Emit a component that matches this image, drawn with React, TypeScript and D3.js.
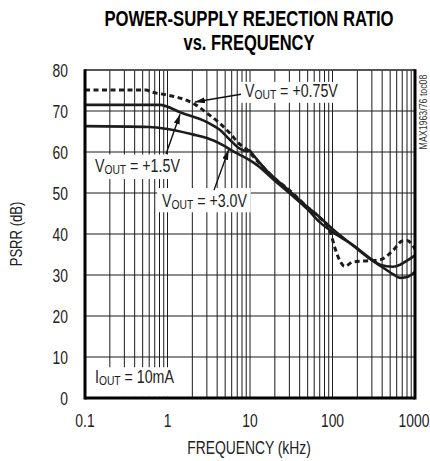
import React from "react";
import * as d3 from "d3";

// PSRR vs frequency (kHz, dB)
const freqTicks = [0.1, 1, 10, 100, 1000];
const freqTickLabels = ["0.1", "1", "10", "100", "1000"];
const psrrTicks = [0, 10, 20, 30, 40, 50, 60, 70, 80];

const vout075: [number, number][] = [
  [0.1, 75.1], [0.55, 75.1], [0.65, 74.6], [1, 73.9], [1.8, 72.4], [2.2, 71.5],
  [3, 69.5], [4.3, 67], [5.7, 64.6], [7.5, 61.9], [9.2, 60.6], [12, 58],
  [20, 53.5], [30, 50.7], [50, 46.5], [70, 44], [93, 40.8], [107, 36.6],
  [125, 33.2], [140, 32.1], [177, 33.2], [234, 33.4], [377, 33.7], [541, 36],
  [700, 38.3], [800, 38.4], [1000, 36.3],
];

const vout15: [number, number][] = [
  [0.1, 71.5], [0.8, 71.5], [1.5, 69.5], [3, 67.3], [4.3, 65.4], [5.7, 63],
  [7.5, 60.8], [9.2, 60.2], [9.8, 60.4], [10.8, 59.4], [15, 56], [30, 50.5],
  [50, 46.5], [70, 44.1], [100, 41.2], [177, 37.2], [300, 33.6], [377, 32.3],
  [540, 30.2], [660, 29.3], [800, 29.5], [1000, 30.8],
];

const vout30: [number, number][] = [
  [0.1, 66.3], [0.6, 66.1], [1, 65.6], [2, 64.3], [3, 63.4], [4.7, 61.7],
  [6.2, 60.2], [9, 58.5], [12.2, 56.8], [20, 53], [30, 50], [50, 46],
  [70, 42.9], [100, 40.5], [177, 37.3], [300, 33.8], [377, 32.5], [540, 32],
  [660, 32.5], [800, 33.5], [1000, 34.8],
];

const W = 430;
const H = 461;
const margin = { top: 70, right: 15, bottom: 63, left: 85 };

const FONT = "'Liberation Sans', Arial, sans-serif";
const SQUEEZE = 0.77; // the datasheet uses a condensed face

// text drawn with a horizontal squeeze around its anchor point
function CText({
  x,
  y,
  sx = SQUEEZE,
  children,
  ...rest
}: {
  x: number;
  y: number;
  sx?: number;
  children: React.ReactNode;
  [k: string]: any;
}) {
  return (
    <g transform={`translate(${x},${y}) scale(${sx},1)`}>
      <text x={0} y={0} {...rest}>
        {children}
      </text>
    </g>
  );
}

export default function App() {
  const x = d3
    .scaleLog()
    .domain([0.1, 1000])
    .range([margin.left, W - margin.right]);
  const y = d3
    .scaleLinear()
    .domain([0, 80])
    .range([H - margin.bottom, margin.top]);

  // minor + major vertical grid lines (1..9 per decade)
  const vGrid: number[] = [];
  for (let dec = 0.1; dec < 1000; dec *= 10) {
    for (let k = 1; k <= 9; k++) vGrid.push(+(dec * k).toPrecision(3));
  }

  const line = d3
    .line<[number, number]>()
    .x((d) => x(d[0]))
    .y((d) => y(d[1]))
    .curve(d3.curveMonotoneX);

  // white boxes behind the labels
  const boxes = [
    { f0: 7.5, f1: 134, p0: 72, p1: 77.1 },
    { f0: 0.118, f1: 1.7, p0: 53.4, p1: 59.4 },
    { f0: 0.75, f1: 10.2, p0: 45.3, p1: 51.2 },
    { f0: 0.103, f1: 1.85, p0: 0.3, p1: 7.5 },
  ];

  const arrows = [
    { from: [7.78, 74.1], to: [2.15, 72.2] },
    { from: [0.96, 59.5], to: [1.42, 69.2] },
    { from: [3.66, 50.7], to: [5.5, 60.5] },
  ];

  const labels = [
    { f: 8.7, p: 73.4, v: "V", sub: "OUT", rest: " = +0.75V" },
    { f: 0.132, p: 55.1, v: "V", sub: "OUT", rest: " = +1.5V" },
    { f: 0.86, p: 46.6, v: "V", sub: "OUT", rest: " = +3.0V" },
    { f: 0.132, p: 3.7, v: "I", sub: "OUT", rest: " = 10mA" },
  ];

  const x0 = x(0.1);
  const x1 = x(1000);
  const y0 = y(0);
  const y1 = y(80);

  return (
    <svg
      width={W}
      height={H}
      style={{ position: "absolute", left: 0, top: 0, background: "#fff" }}
    >
      <defs>
        <marker
          id="head"
          viewBox="0 0 10 6"
          refX="10"
          refY="3"
          markerWidth="10"
          markerHeight="6"
          markerUnits="userSpaceOnUse"
          orient="auto"
        >
          <path d="M0,0 L10,3 L0,6 Z" fill="#111" />
        </marker>
      </defs>

      {/* title */}
      <g fontFamily={FONT} fontWeight="bold" fontSize={22} fill="#000" textAnchor="middle">
        <CText x={249} y={26} sx={0.76}>
          POWER-SUPPLY REJECTION RATIO
        </CText>
        <CText x={249} y={50} sx={0.75}>
          vs. FREQUENCY
        </CText>
      </g>

      {/* grid */}
      <g stroke="#1a1a1a" strokeWidth={1}>
        {vGrid.map((f) => (
          <line key={"v" + f} x1={x(f)} x2={x(f)} y1={y1} y2={y0} />
        ))}
        {psrrTicks.map((p) => (
          <line key={"h" + p} x1={x0} x2={x1} y1={y(p)} y2={y(p)} />
        ))}
      </g>

      {/* label backgrounds */}
      {boxes.map((b, i) => (
        <rect
          key={i}
          x={x(b.f0)}
          y={y(b.p1)}
          width={x(b.f1) - x(b.f0)}
          height={y(b.p0) - y(b.p1)}
          fill="#fff"
        />
      ))}

      {/* curves */}
      <g fill="none" stroke="#1c1c1c" strokeLinejoin="round">
        <path d={line(vout15) || ""} strokeWidth={2.6} />
        <path d={line(vout30) || ""} strokeWidth={2.6} />
        <path d={line(vout075) || ""} strokeWidth={3} strokeDasharray="5 3.5" />
      </g>

      {/* arrows */}
      <g stroke="#111" strokeWidth={1.4}>
        {arrows.map((a, i) => (
          <line
            key={i}
            x1={x(a.from[0])}
            y1={y(a.from[1])}
            x2={x(a.to[0])}
            y2={y(a.to[1])}
            markerEnd="url(#head)"
          />
        ))}
      </g>

      {/* annotations */}
      <g fontFamily={FONT} fontSize={18} fill="#222">
        {labels.map((l, i) => (
          <CText key={i} x={x(l.f)} y={y(l.p)} sx={0.79}>
            {l.v}
            <tspan fontSize={13} dy={2}>
              {l.sub}
            </tspan>
            <tspan dy={-2}>{l.rest}</tspan>
          </CText>
        ))}
      </g>

      {/* frame */}
      <line x1={x0} x2={x1} y1={y1} y2={y1} stroke="#444" strokeWidth={1.6} />
      <line x1={x0} x2={x0} y1={y1 - 0.8} y2={y0 + 1.5} stroke="#000" strokeWidth={3} />
      <line x1={x1} x2={x1} y1={y1 - 0.8} y2={y0 + 1.5} stroke="#000" strokeWidth={3} />
      <line x1={x0} x2={x1} y1={y0} y2={y0} stroke="#000" strokeWidth={3} />

      {/* y ticks */}
      <g fontFamily={FONT} fontSize={18} fill="#222" textAnchor="end">
        {psrrTicks.map((p) => (
          <CText key={p} x={x0 - 17} y={y(p) + 6.5}>
            {p}
          </CText>
        ))}
      </g>

      {/* x ticks */}
      <g fontFamily={FONT} fontSize={18} fill="#222" textAnchor="middle">
        {freqTicks.map((f, i) => (
          <CText key={f} x={i === freqTicks.length - 1 ? x(f) - 1 : x(f)} y={427}>
            {freqTickLabels[i]}
          </CText>
        ))}
      </g>

      {/* axis titles */}
      <g fontFamily={FONT} fill="#222" textAnchor="middle">
        <CText x={249} y={454} fontSize={18}>
          FREQUENCY (kHz)
        </CText>
        <g transform={`translate(22,${(y0 + y1) / 2}) rotate(-90) scale(${SQUEEZE},1)`}>
          <text fontSize={17}>PSRR (dB)</text>
        </g>
        <g transform={`translate(427,112) rotate(-90) scale(0.8,1)`}>
          <text fontSize={11} fill="#333">
            MAX1963/76 toc08
          </text>
        </g>
      </g>
    </svg>
  );
}
